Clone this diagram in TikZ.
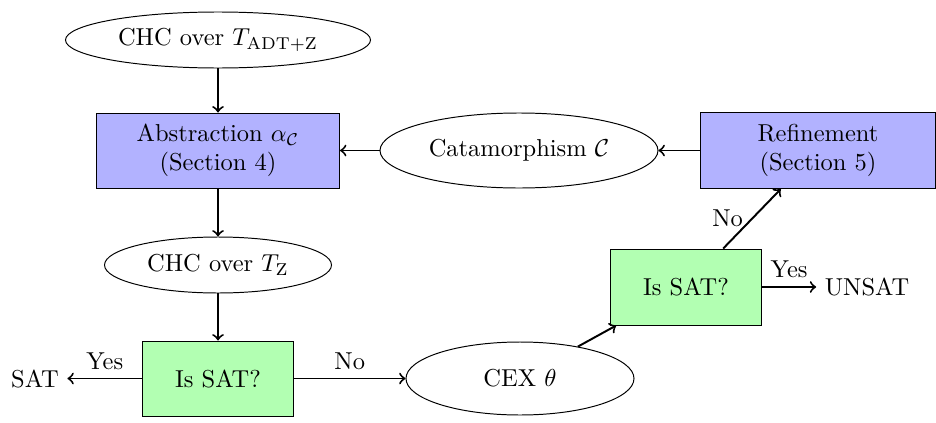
\documentclass[tikz,border=0pt]{standalone}
\usetikzlibrary{shapes.geometric}
\def\pxu{0.4085pt}
\begin{document}
\begin{tikzpicture}[x=\pxu,y=-\pxu,
  ell/.style={draw, ellipse, inner sep=0pt},
  box/.style={draw, rectangle, inner sep=0pt, align=center},
  arr/.style={->, thick}]
\useasboundingbox (0,0) rectangle (936,422);
\node[ell, minimum width=305*\pxu, minimum height=56*\pxu] (chc1) at (218,40) {CHC over $T_{\mathrm{ADT+Z}}$};
\node[box, fill=blue!30, minimum width=243*\pxu, minimum height=75*\pxu] (abs) at (218,150.5) {Abstraction $\alpha_{\mathcal{C}}$\\(Section 4)};
\node[ell, minimum width=278*\pxu, minimum height=75*\pxu] (cata) at (519,150.5) {Catamorphism $\mathcal{C}$};
\node[box, fill=blue!30, minimum width=235*\pxu, minimum height=76*\pxu] (ref) at (818,150.5) {Refinement\\(Section 5)};
\node[ell, minimum width=227*\pxu, minimum height=56*\pxu] (chc2) at (218,265) {CHC over $T_{\mathrm{Z}}$};
\node[box, fill=green!30, minimum width=151*\pxu, minimum height=75*\pxu] (sat1) at (218,378.5) {Is SAT?};
\node (sat) at (35,378.5) {SAT};
\node[ell, minimum width=228*\pxu, minimum height=73*\pxu] (cex) at (520,378.5) {CEX $\theta$};
\node[box, fill=green!30, minimum width=151*\pxu, minimum height=76*\pxu] (sat2) at (686,287) {Is SAT?};
\node (unsat) at (867,287) {UNSAT};
\draw[arr] (chc1) -- (abs);
\draw[arr] (abs) -- (chc2);
\draw[arr] (chc2) -- (sat1);
\draw[arr] (cata) -- (abs);
\draw[arr] (ref) -- (cata);
\draw[arr] (sat1) -- node[above] {Yes} (sat);
\draw[arr] (sat1) -- node[above] {No} (cex);
\draw[arr] (cex) -- (sat2);
\draw[arr] (sat2) -- node[left] {No} (ref);
\draw[arr] (sat2) -- node[above] {Yes} (unsat);
\end{tikzpicture}
\end{document}
